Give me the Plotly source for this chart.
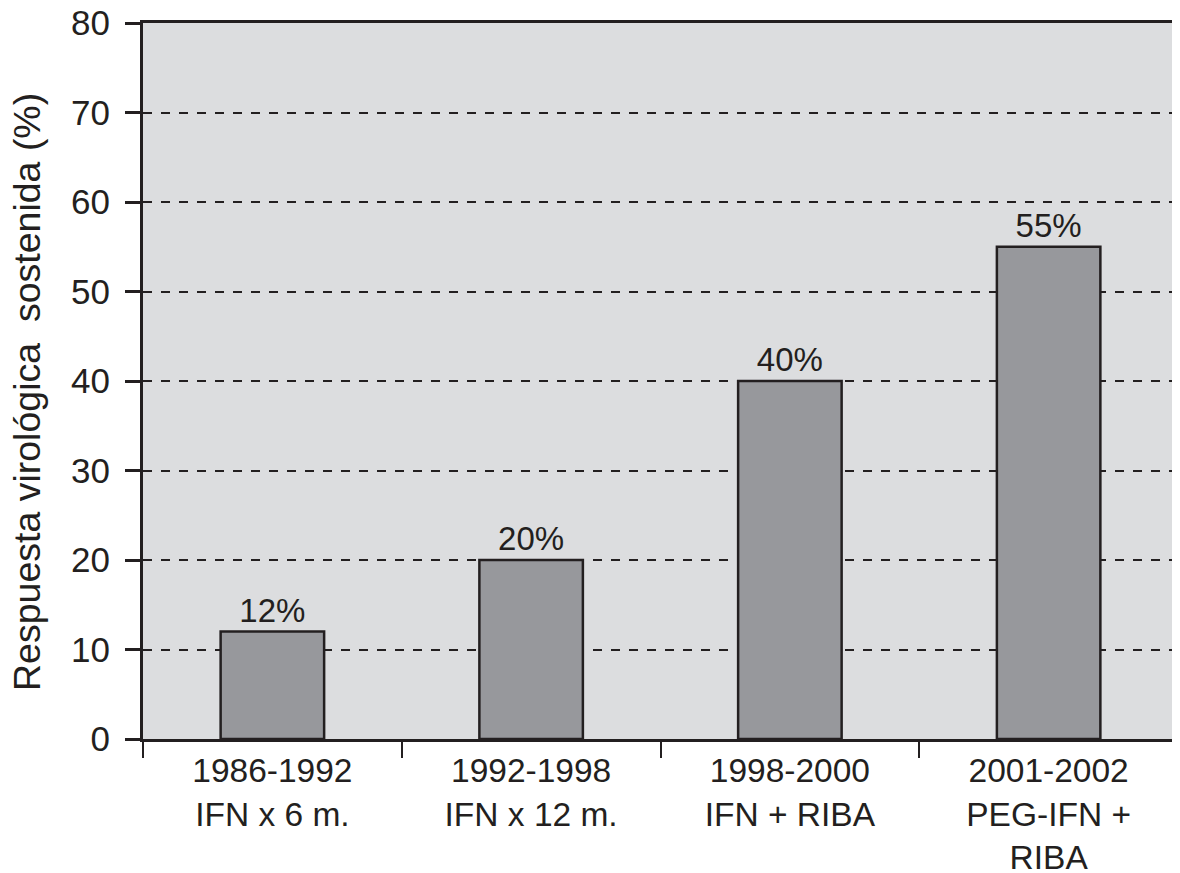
import plotly.graph_objects as go

categories = ["1986-1992<br>IFN x 6 m.", "1992-1998<br>IFN x 12 m.", "1998-2000<br>IFN + RIBA", "2001-2002<br>PEG-IFN +<br>RIBA"]
values = [12, 20, 40, 55]
labels = ["12%", "20%", "40%", "55%"]
yticks = [0, 10, 20, 30, 40, 50, 60, 70, 80]
ytitle = "Respuesta virológica  sostenida (%)"

font = "Liberation Sans, Arial, sans-serif"
ink = "#231f20"

fig = go.Figure(go.Bar(
    x=categories, y=values, text=labels, textposition="outside",
    textfont=dict(size=33, color=ink, family=font),
    marker=dict(color="#97989c", line=dict(color=ink, width=2.5)),
    width=0.4, cliponaxis=False,
))
fig.update_layout(
    width=1172, height=865,
    margin=dict(l=135, r=2, t=15, b=134),
    paper_bgcolor="white", plot_bgcolor="#dcdddf",
    showlegend=False,
    font=dict(family=font, color=ink),
    annotations=[dict(
        text=ytitle, xref="paper", yref="paper", x=0, y=0.5, xshift=-116, yshift=-11,
        xanchor="center", yanchor="middle", textangle=-90, showarrow=False,
        font=dict(size=37.5, family=font, color=ink),
    )],
)
fig.update_xaxes(
    tickson="boundaries", ticks="outside", ticklen=16, tickwidth=2, tickcolor=ink,
    showline=True, linewidth=3, linecolor=ink, mirror=True, automargin=False,
    tickfont=dict(size=33.5, family=font, color=ink), showgrid=False,
    ticklabeloverflow="allow",
)
fig.update_yaxes(
    range=[0, 80], tickvals=yticks, ticks="outside", ticklen=15, tickwidth=3, tickcolor=ink,
    showline=True, linewidth=3, linecolor=ink, mirror=True, automargin=False,
    showgrid=True, gridcolor=ink, gridwidth=2, griddash="dash",
    zeroline=False, ticklabelstandoff=8, ticklabeloverflow="allow",
    tickfont=dict(size=35, family=font, color=ink),
)
fig.write_html("out.html")
